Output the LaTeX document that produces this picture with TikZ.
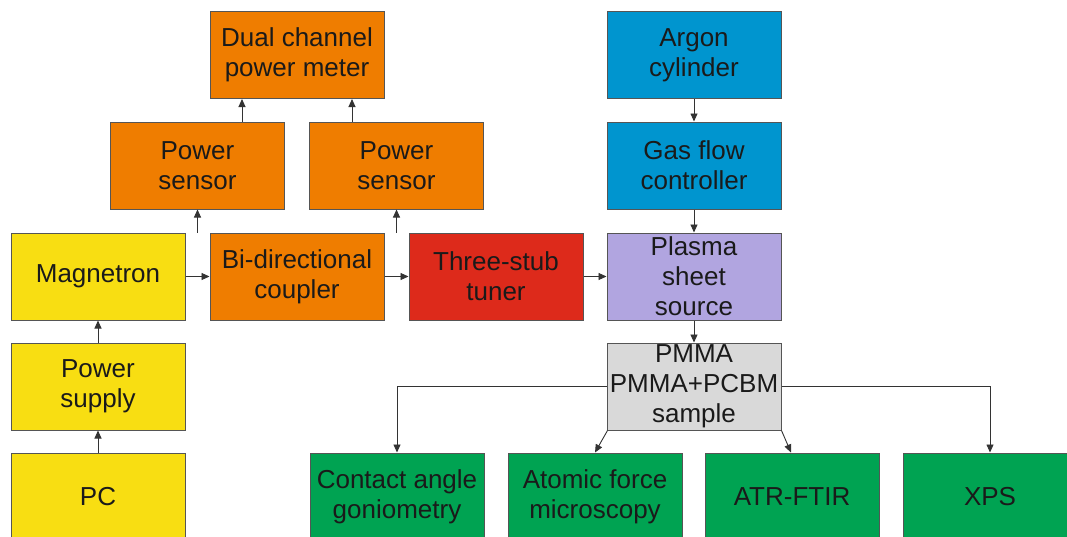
\documentclass[tikz,border=0pt]{standalone}
\usepackage{fontspec}
\setmainfont{Liberation Sans}
\usetikzlibrary{arrows.meta}
\definecolor{cyel}{HTML}{F8DE12}
\definecolor{corg}{HTML}{EF7D00}
\definecolor{cred}{HTML}{DD2A1B}
\definecolor{cblu}{HTML}{0095CF}
\definecolor{cpur}{HTML}{B1A5E0}
\definecolor{cgry}{HTML}{D9D9D9}
\definecolor{cgrn}{HTML}{00A352}
\definecolor{cedge}{HTML}{555555}
\definecolor{ctxt}{HTML}{1A1A1A}
\definecolor{cline}{HTML}{333333}
\tikzset{
  box/.style={draw=cedge, line width=1pt, minimum width=174pt, minimum height=87pt,
    inner sep=0pt, align=center, text=ctxt, font=\fontsize{26}{30}\selectfont},
  conn/.style={draw=cline, line width=0.9pt, -{Triangle[length=8pt,width=7pt]}}
}
\begin{document}
\begin{tikzpicture}[x=1pt,y=-1pt]
\useasboundingbox (0,0) rectangle (1067,536);
\fill[white] (0,0) rectangle (1067,536);
\clip (0,0) rectangle (1067,536);
\node[box, fill=corg] (dual) at (297,55) {Dual channel\\power meter};
\node[box, fill=corg] (psl) at (197.5,165.5) {Power\\sensor};
\node[box, fill=corg] (psr) at (396.5,165.5) {Power\\sensor};
\node[box, fill=cyel] (mag) at (98,276.5) {Magnetron};
\node[box, fill=corg] (coup) at (297,276.5) {Bi-directional\\coupler};
\node[box, fill=cred] (tuner) at (496,276.5) {Three-stub\\tuner};
\node[box, fill=cpur] (plasma) at (694,276.5) {Plasma\\sheet\\source};
\node[box, fill=cblu] (argon) at (694,55) {Argon\\cylinder};
\node[box, fill=cblu] (gas) at (694,165.5) {Gas flow\\controller};
\node[box, fill=cyel] (psup) at (98,386.5) {Power\\supply};
\node[box, fill=cyel] (pc) at (98,496.5) {PC};
\node[box, fill=cgry] (pmma) at (694,386.5) {PMMA\\PMMA+PCBM\\sample};
\node[box, fill=cgrn] (cag) at (397,496.5) {Contact angle\\goniometry};
\node[box, fill=cgrn] (afm) at (595,496.5) {Atomic force\\microscopy};
\node[box, fill=cgrn] (atr) at (792,496.5) {ATR-FTIR};
\node[box, fill=cgrn] (xps) at (990,496.5) {XPS};
% connectors
\draw[conn] (mag) -- (coup);
\draw[conn] (coup) -- (tuner);
\draw[conn] (tuner) -- (plasma);
\draw[conn] (coup.north -| psl) -- (psl.south);
\draw[conn] (coup.north -| psr) -- (psr.south);
\draw[conn] ([xshift=44.5pt]psl.north) -- ([xshift=-55pt]dual.south);
\draw[conn] ([xshift=-44.5pt]psr.north) -- ([xshift=55pt]dual.south);
\draw[conn] (psup) -- (mag);
\draw[conn] (pc) -- (psup);
\draw[conn] (argon) -- (gas);
\draw[conn] (gas) -- (plasma);
\draw[conn] (plasma) -- (pmma);
\draw[conn] (pmma.west) -| (cag.north);
\draw[conn] (pmma.east) -| (xps.north);
\draw[conn] ([xshift=1pt]pmma.south west) -- (afm.north);
\draw[conn] (pmma.south east) -- ([xshift=-1pt]atr.north);
\end{tikzpicture}
\end{document}
